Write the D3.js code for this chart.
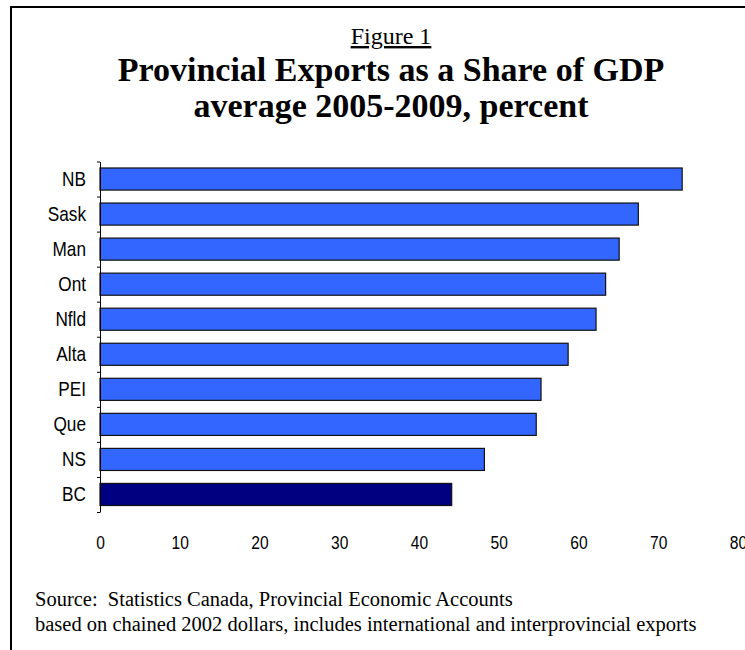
<!DOCTYPE html>
<html>
<head>
<meta charset="utf-8">
<script src="https://cdn.jsdelivr.net/npm/d3@7"></script>
<style>
  html, body { margin: 0; padding: 0; background: #fff; }
  svg { display: block; }
  .sans { font-family: "Liberation Sans", Arial, sans-serif; }
  .serif { font-family: "Liberation Serif", "Times New Roman", serif; white-space: pre; }
</style>
</head>
<body>
<script>
// Provinces, top to bottom, and their export share of GDP (percent)
const provinces = ["NB", "Sask", "Man", "Ont", "Nfld", "Alta", "PEI", "Que", "NS", "BC"];
const shares = [73.0, 67.5, 65.1, 63.4, 62.2, 58.7, 55.3, 54.7, 48.2, 44.1];
const highlighted = ["BC"];
const xTicks = [0, 10, 20, 30, 40, 50, 60, 70, 80];

const titleLines = ["Provincial Exports as a Share of GDP", "average 2005-2009, percent"];
const sourceLines = [
  "Source:  Statistics Canada, Provincial Economic Accounts",
  "based on chained 2002 dollars, includes international and interprovincial exports"
];

const W = 745, H = 650;
const narrow = "scale(0.82,1)"; // condensed look for the axis lettering
const svg = d3.select("body").append("svg").attr("width", W).attr("height", H);

// Frame around the figure (runs past the right and bottom edges)
svg.append("rect")
  .attr("x", 11).attr("y", 7)
  .attr("width", W + 20).attr("height", H + 20)
  .attr("fill", "none").attr("stroke", "#000").attr("stroke-width", 2);

// Heading
svg.append("text").attr("class", "serif")
  .attr("x", 391).attr("y", 44)
  .attr("text-anchor", "middle")
  .attr("font-size", 24)
  .attr("text-decoration", "underline")
  .text("Figure 1");

svg.selectAll("text.title").data(titleLines).join("text")
  .attr("class", "serif title")
  .attr("x", 391).attr("y", (d, i) => 81 + i * 36)
  .attr("text-anchor", "middle")
  .attr("font-size", 34).attr("font-weight", "bold")
  .text(d => d);

// Scales
const x = d3.scaleLinear().domain([0, 80]).range([100, 738]);
const y = d3.scaleBand().domain(provinces).range([161.5, 512])
  .paddingInner(0.37).paddingOuter(0.185);
const slot = d3.scaleLinear().domain([0, provinces.length]).range([161.5, 512]);

// Bars
svg.append("g").selectAll("rect").data(provinces).join("rect")
  .attr("x", x(0))
  .attr("y", d => y(d))
  .attr("width", (d, i) => x(shares[i]) - x(0))
  .attr("height", y.bandwidth())
  .attr("fill", d => highlighted.includes(d) ? "#000080" : "#3366ff")
  .attr("stroke", "#111")
  .attr("stroke-width", 1.2);

// Vertical axis with tick marks between categories
const yAxisG = svg.append("g").attr("transform", `translate(${x(0)},0)`)
  .call(d3.axisLeft(slot).ticks(provinces.length).tickSize(3).tickFormat("").tickSizeOuter(0));
yAxisG.select(".domain").attr("stroke", "#000");
yAxisG.selectAll(".tick line").attr("stroke", "#000");

// Category labels
const yLab = svg.append("g").attr("transform", `translate(${x(0) - 14},0)`)
  .call(d3.axisLeft(y).tickSize(0).tickPadding(0));
yLab.select(".domain").remove();
yLab.selectAll("text").attr("class", "sans").attr("font-size", 21).attr("fill", "#000")
  .attr("transform", narrow);

// Horizontal value labels (no axis line)
const xLab = svg.append("g").attr("transform", `translate(0,536)`)
  .call(d3.axisBottom(x).tickValues(xTicks).tickSize(0).tickPadding(0));
xLab.select(".domain").remove();
xLab.selectAll("text").attr("class", "sans").attr("font-size", 19).attr("fill", "#000")
  .attr("transform", narrow);

// Source note
svg.selectAll("text.source").data(sourceLines).join("text")
  .attr("class", "serif source")
  .attr("x", 35).attr("y", (d, i) => 606 + i * 25)
  .attr("font-size", 20.5)
  .text(d => d);
</script>
</body>
</html>
